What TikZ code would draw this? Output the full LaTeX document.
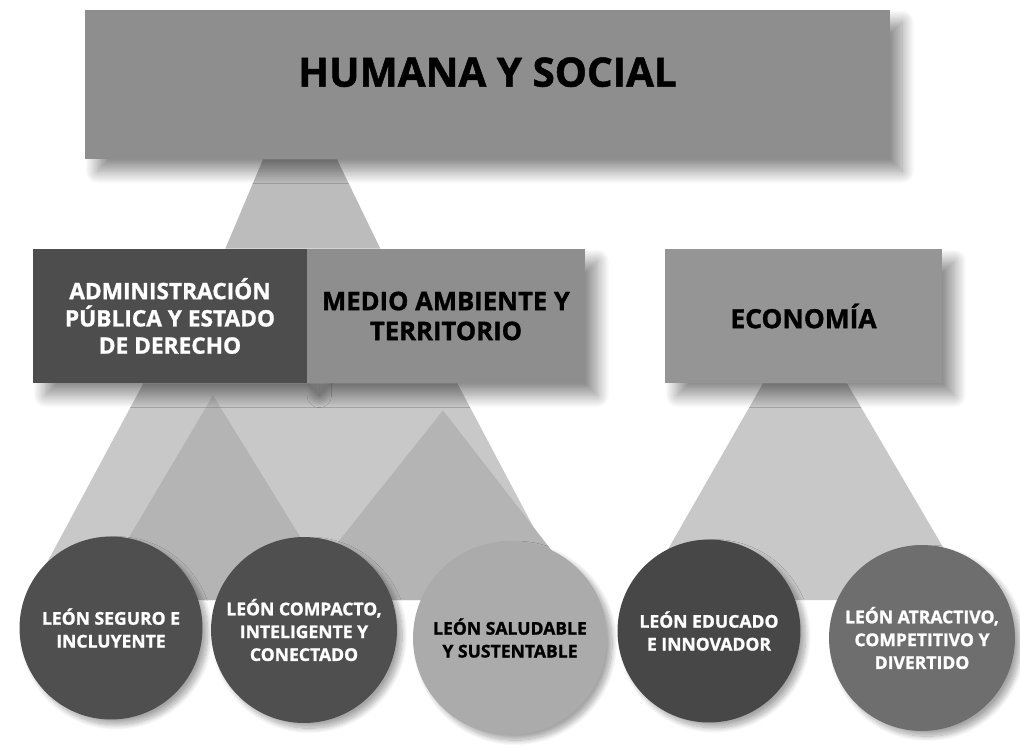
\documentclass[tikz,border=0pt]{standalone}
\usepackage{fontspec}
\setmainfont{Open Sans}[BoldFeatures={FakeBold=1.2}]
\usetikzlibrary{calc,shadows.blur}
\pgfdeclarelayer{background}
\pgfsetlayers{background,main}

\definecolor{boxgray}{HTML}{8E8E8E}
\definecolor{econgray}{HTML}{959595}
\definecolor{admingray}{HTML}{4D4D4D}
\definecolor{darkleon}{HTML}{4F4F4F}
\definecolor{darkestleon}{HTML}{474747}
\definecolor{midleon}{HTML}{6E6E6E}
\definecolor{lightleon}{HTML}{ABABAB}
\definecolor{beamgray}{HTML}{C8C8C8}
\definecolor{beamdark}{HTML}{B4B4B4}

\tikzset{
  box/.style={rectangle, inner sep=0pt, align=center, fill=boxgray,
    blur shadow={shadow xshift=7pt, shadow yshift=-7pt,
      shadow blur radius=7pt, shadow blur steps=20, shadow opacity=45}},
  leon/.style={circle, inner sep=0pt, align=center, text=white,
    font=\bfseries\fontsize{10}{13}\selectfont,
    blur shadow={shadow xshift=3pt, shadow yshift=-3pt,
      shadow blur radius=3pt, shadow blur steps=12, shadow opacity=35}},
  beam/.style={fill=beamgray},
  overlap/.style={fill=beamdark}
}

\begin{document}
\begin{tikzpicture}[x=0.02cm, y=-0.02cm]
  \useasboundingbox (0,0) rectangle (1020,756);

  % boxes
  \node[box, minimum width=16.1cm, minimum height=2.98cm, text depth=0.5cm,
    font=\bfseries\fontsize{23}{27}\selectfont] (humana) at (487.5,84.5) {HUMANA Y SOCIAL};
  \node[box, fill=admingray, text=white, minimum width=5.48cm, minimum height=2.68cm,
    font=\bfseries\fontsize{12.9}{15.5}\selectfont] (admin) at (170,316)
    {ADMINISTRACIÓN\\PÚBLICA Y ESTADO\\DE DERECHO};
  \node[box, minimum width=5.56cm, minimum height=2.68cm,
    font=\bfseries\fontsize{14.6}{17}\selectfont] (medio) at (446,316)
    {MEDIO AMBIENTE Y\\TERRITORIO};
  \node[box, fill=econgray, minimum width=5.54cm, minimum height=2.68cm,
    font=\bfseries\fontsize{15}{18}\selectfont] (econ) at (803.5,316) {ECONOMÍA};

  % circles
  \node[leon, fill=darkleon, minimum size=3.66cm] (seguro) at (111,628)
    {LEÓN SEGURO E\\INCLUYENTE};
  \node[leon, fill=darkleon, minimum size=3.72cm] (compacto) at (304,630)
    {LEÓN COMPACTO,\\INTELIGENTE Y\\CONECTADO};
  \node[leon, fill=lightleon, text=black, minimum size=3.88cm] (saludable) at (510,638)
    {LEÓN SALUDABLE\\Y SUSTENTABLE};
  \node[leon, fill=darkestleon, minimum size=3.66cm] (educado) at (709,631)
    {LEÓN EDUCADO\\E INNOVADOR};
  \node[leon, fill=midleon, minimum size=3.72cm] (atractivo) at (922,638)
    {LEÓN ATRACTIVO,\\COMPETITIVO Y\\DIVERTIDO};

  % beams behind everything
  \begin{pgfonlayer}{background}
    \fill[beam, fill=beamgray!94!black] ($(humana.south)+(-224.5,0)$) -- ($(humana.south)+(-150.5,0)$)
      -- ($(admin.north east)+(73,0)$) -- ($(admin.north east)+(-82,0)$) -- cycle;
    \fill[beam] ($(admin.south east)+(-164,0)$) -- ($(admin.south east)+(150,0)$)
      -- ($(saludable.center)+(62,-38)$) -- ($(seguro.center)+(-84,-28)$) -- cycle;
    \fill[overlap] ($(admin.south)+(43,12)$) -- ($(compacto.center)+(35,-30)$)
      -- ($(seguro.center)+(-19,-28)$) -- cycle;
    \fill[overlap] ($(medio.south)+(-3,27)$) -- ($(saludable.center)+(80,-38)$)
      -- ($(compacto.center)+(-12,-30)$) -- cycle;
    \fill[beam] ($(econ.south)+(-40.5,0)$) -- ($(econ.south)+(43.5,0)$)
      -- ($(atractivo.center)+(52,-38)$) -- ($(educado.center)+(-70,-31)$) -- cycle;
  \end{pgfonlayer}
\end{tikzpicture}
\end{document}
